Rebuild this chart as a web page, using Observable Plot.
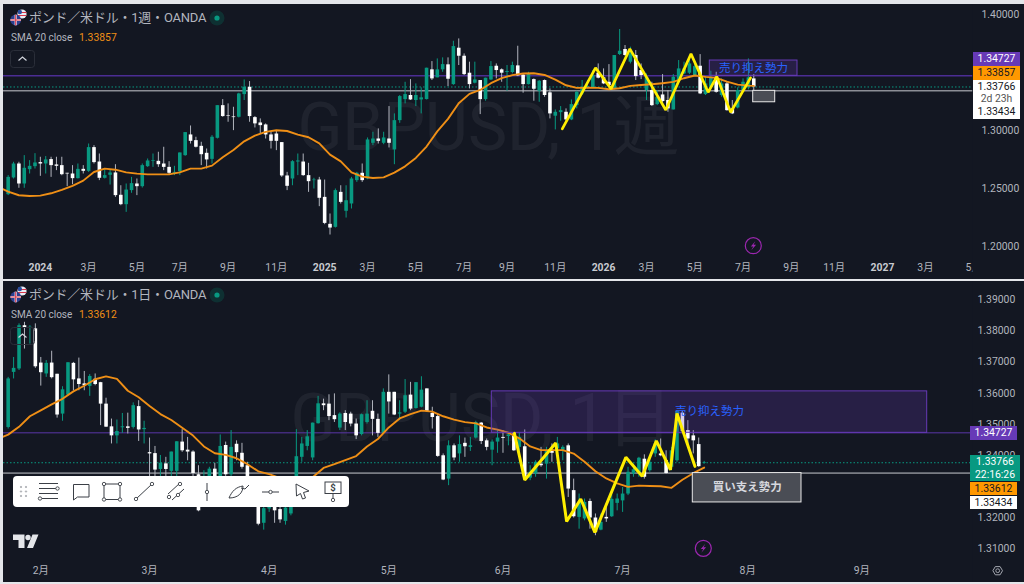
<!DOCTYPE html>
<html lang="ja"><head><meta charset="utf-8">
<script src="https://cdn.jsdelivr.net/npm/d3@7"></script>
<script src="https://cdn.jsdelivr.net/npm/@observablehq/plot@0.6"></script>
<style>
html,body{margin:0;padding:0;background:#e4e6ea;width:1024px;height:584px;overflow:hidden;font-family:Roboto,"Noto Sans CJK JP",sans-serif}
.p{position:absolute;background:#131722}
.p svg{display:block}
.t{position:absolute;white-space:nowrap;line-height:1}
.tag{position:absolute;text-align:center;font-size:10.4px;white-space:nowrap}
#ov{position:absolute;left:0;top:0;pointer-events:none}
</style></head><body>
<div class="p" id="wk" style="left:3px;top:4px;width:1021px;height:275px"></div>
<div class="p" id="dy" style="left:3px;top:281px;width:1021px;height:301px"></div>
<script>
// prices in units of 0.0001
const weekOpen=[12450,12594,12714,12542,12665,12691,12726,12714,12752,12706,12700,12634,12628,12588,12668,12651,12855,12731,12591,12617,12637,12445,12364,12485,12542,12519,12691,12737,12737,12714,12685,12634,12648,12786,12964,12915,12866,12806,12754,12935,13216,13130,13119,13116,13311,13374,13113,13067,13050,12964,12972,12898,12611,12585,12731,12731,12614,12571,12576,12427,12195,12169,12470,12307,12370,12571,12634,12585,12892,12929,12892,12929,12835,13087,13268,13303,13260,13265,13268,13524,13455,13524,13567,13397,13710,13641,13495,13409,13432,13268,13437,13555,13524,13501,13501,13558,13478,13397,13440,13340,13432,13326,13125,13156,13159,13093,13216,13317,13369,13369,13495,13455,13417,13360,13656,13699,13590,13647,13518,13346,13346,13225,13308,13260,13179,13432,13489,13495,13475,13555,13311,13374,13460,13303,13403,13188,13196,13346,13369,13446];
const weekHigh=[12614,12729,12729,12786,12743,12803,12772,12778,12772,12772,12772,12634,12700,12714,12700,12886,12872,12800,12665,12665,12708,12527,12542,12599,12585,12714,12757,12800,12815,12858,12734,12694,12809,12984,13041,12944,12901,12843,12958,13216,13268,13231,13202,13323,13437,13423,13122,13102,13059,12987,13001,12898,12642,12743,12800,12800,12720,12591,12599,12576,12284,12499,12527,12527,12599,12642,12714,12938,12987,13016,12987,13208,13145,13303,13417,13440,13403,13369,13538,13595,13618,13627,13627,13770,13790,13661,13590,13590,13432,13452,13595,13575,13532,13561,13590,13727,13483,13503,13446,13432,13437,13360,13179,13208,13188,13265,13340,13432,13432,13518,13575,13532,13569,13647,13871,13733,13719,13690,13575,13489,13417,13346,13483,13346,13483,13604,13590,13618,13575,13655,13466,13512,13503,13446,13417,13260,13369,13446,13618,13483];
const weekLow=[12442,12585,12505,12505,12628,12671,12608,12628,12599,12657,12613,12519,12536,12585,12628,12642,12714,12571,12585,12533,12427,12355,12298,12462,12442,12507,12685,12685,12685,12657,12620,12614,12614,12780,12886,12852,12700,12671,12714,12929,13116,13073,13001,13110,13260,13073,13024,12972,12929,12843,12829,12599,12485,12527,12614,12608,12470,12499,12347,12192,12103,12163,12370,12249,12327,12556,12556,12579,12872,12886,12880,12852,12708,13064,13231,13260,13208,13145,13265,13432,13455,13503,13380,13391,13561,13475,13360,13403,13139,13254,13432,13446,13417,13340,13489,13466,13323,13394,13254,13245,13288,13102,13007,13082,13082,13087,13188,13303,13360,13369,13446,13397,13380,13351,13647,13641,13575,13432,13440,13260,13208,13216,13208,13159,13179,13417,13483,13483,13466,13311,13303,13369,13323,13288,13168,13139,13188,13331,13351,13346];
const weekClose=[12599,12714,12542,12677,12694,12723,12714,12749,12700,12694,12622,12628,12588,12668,12651,12855,12726,12591,12614,12637,12442,12364,12490,12545,12519,12700,12740,12743,12708,12685,12634,12642,12809,12984,12909,12858,12794,12749,12944,13216,13122,13125,13113,13317,13374,13122,13059,13044,12964,12909,12909,12611,12522,12734,12740,12614,12562,12576,12419,12203,12163,12485,12384,12398,12585,12634,12571,12921,12929,12909,12938,12892,13087,13294,13311,13265,13303,13283,13538,13446,13524,13569,13443,13724,13641,13483,13397,13437,13268,13452,13552,13518,13495,13509,13561,13472,13397,13483,13357,13426,13303,13145,13159,13173,13093,13225,13331,13374,13380,13475,13452,13403,13389,13647,13684,13647,13661,13466,13475,13460,13216,13288,13251,13188,13460,13532,13532,13575,13552,13317,13403,13455,13331,13403,13173,13145,13346,13417,13455,13377];
const weekSmaBar=[0,1,3,5,7,9,11,13,15,17,19,21,23,25,27,29,31,33,35,37,39,41,43,45,47,49,51,53,55,57,59,61,63,65,67,69,71,73,75,77,79,81,83,85,87,89,91,93,95,97,99,101,103,105,107,109,111,113,115,117,119,121,123,125,127,129,131,133,135,137,139,140];
const weekSma=[12499,12476,12445,12439,12442,12462,12491,12525,12571,12645,12674,12665,12642,12631,12625,12625,12625,12642,12674,12674,12700,12772,12835,12909,12958,12990,13004,12998,12967,12944,12892,12795,12737,12642,12605,12594,12599,12640,12694,12766,12864,12995,13102,13236,13317,13351,13409,13452,13478,13492,13495,13480,13440,13391,13369,13371,13369,13357,13366,13386,13394,13400,13409,13420,13452,13475,13463,13455,13423,13397,13388,13386];
const weekZigBar=[104.3,110.5,113.4,116.9,123.6,128.3,131.5,133.1,135.7,139.4];
const weekZigPrice=[13016,13541,13360,13704,13179,13661,13331,13466,13159,13455];
const weekTickBars=[16,25,33,42,51,68,77,86,94,103,120,129,138,147,155,172,181];
const weekTickText=["3月","5月","7月","9月","11月","3月","5月","7月","9月","11月","3月","5月","7月","9月","11月","3月","5月"];
const weekYearBars=[7,60,112,164];
const weekYearText=["2024","2025","2026","2027"];
const weekPriceTicks=[1.40,1.30,1.25,1.20];

const dayOpen=[13490,13667,13678,13817,13810,13807,13697,13662,13697,13661,13533,13594,13696,13646,13630,13622,13645,13634,13565,13492,13463,13489,13492,13490,13557,13483,13409,13406,13355,13373,13349,13349,13443,13417,13411,13338,13276,13319,13356,13330,13432,13338,13436,13407,13367,13319,13233,13182,13228,13233,13226,13188,13212,13297,13394,13429,13392,13502,13566,13565,13528,13488,13535,13533,13501,13467,13506,13542,13516,13471,13603,13603,13533,13539,13594,13551,13555,13614,13535,13525,13399,13324,13431,13405,13439,13426,13456,13504,13447,13417,13443,13458,13461,13469,13426,13428,13327,13340,13372,13372,13417,13421,13417,13431,13287,13201,13196,13252,13199,13160,13201,13203,13246,13254,13276,13340,13343,13388,13351,13405,13405,13383,13362,13383,13536,13480,13463,13435,13375];
const dayHigh=[13651,13715,13823,13828,13817,13823,13715,13705,13735,13661,13621,13698,13699,13713,13670,13660,13662,13635,13584,13517,13514,13535,13536,13569,13576,13510,13456,13429,13400,13394,13411,13444,13483,13458,13415,13367,13351,13362,13375,13466,13443,13480,13447,13439,13378,13330,13276,13276,13287,13254,13233,13265,13330,13483,13458,13480,13504,13590,13581,13595,13598,13537,13544,13539,13517,13533,13576,13576,13533,13614,13659,13603,13576,13644,13635,13634,13653,13614,13555,13533,13405,13447,13437,13463,13456,13458,13510,13506,13453,13450,13480,13480,13474,13472,13474,13482,13367,13383,13426,13426,13437,13458,13431,13437,13324,13276,13260,13260,13212,13212,13244,13276,13276,13297,13362,13372,13394,13402,13399,13450,13453,13415,13426,13544,13542,13512,13480,13456,13381];
const dayLow=[13485,13646,13673,13742,13758,13680,13623,13651,13646,13520,13510,13592,13608,13608,13608,13590,13624,13496,13490,13437,13437,13471,13469,13485,13445,13437,13319,13319,13319,13330,13330,13330,13410,13383,13330,13219,13254,13297,13297,13319,13330,13330,13383,13356,13276,13244,13174,13160,13217,13182,13182,13176,13206,13292,13378,13415,13383,13501,13544,13512,13506,13480,13480,13492,13451,13463,13501,13463,13458,13469,13533,13528,13512,13535,13544,13549,13553,13539,13485,13394,13319,13303,13383,13378,13394,13413,13453,13435,13415,13367,13407,13407,13431,13413,13405,13319,13319,13330,13362,13324,13378,13415,13383,13265,13199,13163,13190,13163,13142,13158,13185,13201,13222,13217,13271,13330,13330,13324,13346,13394,13396,13340,13351,13378,13471,13426,13405,13362,13372];
const dayClose=[13646,13680,13817,13811,13812,13685,13666,13696,13650,13530,13611,13698,13643,13628,13624,13654,13628,13565,13491,13463,13477,13492,13487,13560,13482,13487,13405,13353,13375,13355,13411,13444,13415,13411,13342,13222,13330,13356,13319,13429,13338,13426,13409,13362,13319,13265,13179,13229,13265,13222,13193,13231,13319,13396,13437,13460,13504,13566,13560,13525,13515,13533,13506,13501,13463,13531,13533,13516,13471,13603,13572,13530,13537,13592,13549,13634,13610,13542,13522,13397,13321,13431,13392,13435,13428,13431,13506,13445,13426,13443,13456,13455,13466,13415,13458,13330,13346,13378,13367,13415,13407,13437,13426,13292,13203,13249,13249,13199,13153,13185,13196,13259,13260,13276,13346,13354,13391,13330,13378,13437,13399,13342,13415,13542,13477,13453,13447,13364,13377];
const daySmaBar=[0,1,3,5,7,9,11,13,15,17,19,21,23,25,27,29,31,33,35,37,39,41,43,45,47,49,51,53,55,57,59,61,63,65,67,69,71,73,75,77,79,81,83,85,87,89,91,93,95,97,99,101,103,105,107,109,111,113,115,117,119,121,123,125,127,129];
const daySma=[13460,13467,13492,13526,13545,13564,13582,13606,13624,13645,13654,13646,13608,13587,13559,13533,13514,13489,13464,13429,13407,13402,13391,13372,13349,13340,13327,13313,13308,13330,13360,13372,13385,13398,13429,13453,13490,13519,13533,13544,13541,13526,13515,13507,13503,13490,13483,13473,13455,13429,13417,13417,13417,13406,13380,13349,13326,13310,13299,13303,13302,13301,13296,13322,13343,13361];
const dayZigBar=[94.1,96,101.7,103.7,106.3,108.9,114.6,117.6,120.2,122.8,124,127.3];
const dayZigPrice=[13471,13321,13440,13188,13260,13153,13394,13333,13447,13354,13535,13365];
const dayTickBars=[7,27,49,71,92,114,137,158];
const dayTickText=["2月","3月","4月","5月","6月","7月","8月","9月"];
const dayPriceTicks=[1.39,1.38,1.37,1.36,1.35,1.34,1.32,1.31];

const resistance=1.34727, support=1.33434, last=1.33766;
const GREEN="#089981",GREY="#b2b5be",PURPLE="#673ab7",ORANGE="#ef8f16",AXIS="#b2b5be",BLUE="#2962ff",FONT='Roboto,"Noto Sans CJK JP",sans-serif';

function panel(host,c){
  const W=1021,H=c.height;
  const i=px=>1+(px-c.x0)/c.step;          // page x -> bar number
  const bars=c.open.map((o,k)=>({bar:k+1,o:o/1e4,h:c.high[k]/1e4,l:c.low[k]/1e4,c:c.close[k]/1e4}));
  const up=bars.filter(d=>d.c>=d.o),down=bars.filter(d=>d.c<d.o);
  const sma=c.smaBar.map((b,k)=>({b,v:c.sma[k]/1e4}));
  const zig=c.zigBar.map((b,k)=>({b,v:c.zigPrice[k]/1e4}));
  const right=i(972.5);
  const plot=Plot.plot({
    width:W,height:H,margin:0,marginRight:c.mr,marginBottom:c.mb,
    style:{background:"#131722",fontFamily:FONT,fontSize:"10.4px",color:AXIS},
    x:{type:"linear",domain:[1,c.open.length],range:[c.x0-3,c.x0-3+(c.open.length-1)*c.step]},
    y:{type:"linear",domain:c.yd,range:c.yr},
    marks:[
      Plot.text([c.wm],{x:i(c.wmX),y:c.wmY,text:d=>d,fontSize:c.wmSize,fill:"#fff",fillOpacity:.055,textAnchor:"middle",fontFamily:FONT}),
      Plot.ruleY([resistance],{x1:i(3),x2:right,stroke:c.rc,strokeWidth:c.rw}),
      Plot.ruleY([last],{x1:i(3),x2:right,stroke:GREEN,strokeDasharray:"1.5 2",strokeWidth:1}),
      Plot.ruleY([support],{x1:i(3),x2:right,stroke:"#c8cad0",strokeWidth:1}),
      Plot.ruleX(up,{x:"bar",y1:"l",y2:"h",stroke:GREEN,strokeWidth:1}),
      Plot.ruleX(down,{x:"bar",y1:"l",y2:"h",stroke:GREY,strokeWidth:1}),
      Plot.ruleX(up,{x:"bar",y1:"o",y2:"c",stroke:GREEN,strokeWidth:3.6}),
      Plot.ruleX(down,{x:"bar",y1:"o",y2:"c",stroke:"#fff",strokeWidth:3.6}),
      Plot.line(sma,{x:"b",y:"v",stroke:ORANGE,strokeWidth:1.9,curve:"linear"}),
      Plot.rect([c.zone],{x1:d=>i(d.x1),x2:d=>i(d.x2),y1:d=>d.y1,y2:d=>d.y2,fill:PURPLE,fillOpacity:.24,stroke:PURPLE,strokeWidth:1}),
      Plot.text([c.zone],{x:d=>i(d.tx),y:d=>d.ty,text:d=>d.label,fill:BLUE,fontSize:11.5,fontFamily:FONT}),
      Plot.rect([c.box],{x1:d=>i(d.x1),x2:d=>i(d.x2),y1:d=>d.y1,y2:d=>d.y2,fill:"#4a4d55",stroke:"#e8e8e8",strokeWidth:1}),
      Plot.text(c.box.label?[c.box]:[],{x:d=>i((d.x1+d.x2)/2),y:d=>(d.y1+d.y2)/2,text:d=>d.label,fill:"#d6d8de",fontSize:11.5,fontWeight:"bold",fontFamily:FONT}),
      Plot.line(zig,{x:"b",y:"v",stroke:"#ffee00",strokeWidth:c.zw,strokeLinejoin:"miter"}),
      Plot.axisX({ticks:c.tickBars,tickFormat:d=>c.tickText[c.tickBars.indexOf(d)],tickSize:0,tickPadding:c.tp,label:null,fill:AXIS}),
      Plot.axisX({ticks:c.yearBars,tickFormat:d=>c.yearText[c.yearBars.indexOf(d)],tickSize:0,tickPadding:c.tp,label:null,fill:"#c8cad0",fontWeight:"bold"}),
      Plot.rect([0],{x1:right,x2:i(1024),y1:c.yd[0]+1,y2:c.yd[1]-1,fill:"#131722"}),
      Plot.axisY({anchor:"right",ticks:c.priceTicks,tickFormat:d3.format(".5f"),tickSize:0,tickPadding:0,label:null,fill:AXIS}),
    ]
  });
  host.appendChild(plot);
}
panel(document.getElementById("wk"),{
  height:275,x0:7.67,step:5.364,mr:43,mb:20,tp:4,rw:1.5,rc:"#4b2d93",zw:2.7,
  yd:[1.40,1.20],yr:[10,242.5],
  open:weekOpen,high:weekHigh,low:weekLow,close:weekClose,
  smaBar:weekSmaBar,sma:weekSma,zigBar:weekZigBar,zigPrice:weekZigPrice,
  tickBars:weekTickBars,tickText:weekTickText,yearBars:weekYearBars,yearText:weekYearText,priceTicks:weekPriceTicks,
  wm:"GBPUSD, 1週",wmX:488,wmY:1.302,wmSize:66,
  zone:{x1:709.3,x2:797,y1:resistance,y2:1.3604,tx:753,ty:1.3540,label:"売り抑え勢力"},
  box:{x1:752.7,x2:774.7,y1:support,y2:1.3245,label:""}
});
panel(document.getElementById("dy"),{
  height:301,x0:7.67,step:5.4375,mr:47,mb:20,tp:4,rw:1,rc:"#5a36a8",zw:3,
  yd:[1.39,1.31],yr:[18.4,267.3],
  open:dayOpen,high:dayHigh,low:dayLow,close:dayClose,
  smaBar:daySmaBar,sma:daySma,zigBar:dayZigBar,zigPrice:dayZigPrice,
  tickBars:dayTickBars,tickText:dayTickText,yearBars:[],yearText:[],priceTicks:dayPriceTicks,
  wm:"GBPUSD, 1日",wmX:481,wmY:1.3515,wmSize:66,
  zone:{x1:491.3,x2:926.7,y1:resistance,y2:1.3606,tx:709,ty:1.3541,label:"売り抑え勢力"},
  box:{x1:692.3,x2:801,y1:support,y2:1.3249,label:"買い支え勢力"}
});

// chrome: legends, tags, toolbar
function txt(x,y,s,color,size,extra){const e=document.createElement("div");e.className="t";e.textContent=s;
  e.style.cssText=`left:${x}px;top:${y}px;color:${color};font-size:${size}px;${extra||""}`;document.body.appendChild(e);}
function tag(x,y,w,h,bg,fg,s,extra){const e=document.createElement("div");e.className="tag";e.innerHTML=s;
  e.style.cssText=`left:${x}px;top:${y}px;width:${w}px;height:${h}px;line-height:${h}px;background:${bg};color:${fg};${extra||""}`;document.body.appendChild(e);}
txt(29,11,"ポンド／米ドル・1週・OANDA",GREY,13,"letter-spacing:-.22px");
txt(11,33,"SMA 20 close",GREY,10);
txt(79,33,"1.33857",ORANGE,10.4);
txt(29,288,"ポンド／米ドル・1日・OANDA",GREY,13,"letter-spacing:-.22px");
txt(11,310,"SMA 20 close",GREY,10);
txt(79,310,"1.33612",ORANGE,10.4);
// weekly tags
tag(973,52,47,14,PURPLE,"#fff","1.34727");
tag(973,66,47,14,"#ff9800","#131722","1.33857");
tag(973,80,47,39,"#fff","#131722","<div style='line-height:13px;color:#131722'>1.33766</div><div style='line-height:12px;color:#555'>2d 23h</div><div style='line-height:14px'>1.33434</div>");
// daily tags
tag(970,426,47,13.5,PURPLE,"#fff","1.34727");
tag(970,455,50,26,GREEN,"#fff","<div style='line-height:13px'>1.33766</div><div style='line-height:13px'>22:16:26</div>");
tag(970,481.5,47,13.5,"#ff9800","#131722","1.33612");
tag(970,495.5,47,13.5,"#fff","#131722","1.33434");
// toolbar
const bar=document.createElement("div");bar.style.cssText="position:absolute;left:13px;top:476px;width:336px;height:31px;background:#fff;border-radius:4px";document.body.appendChild(bar);
const NS="http://www.w3.org/2000/svg";
const ic="#3b3f46";
const node=(cx,cy)=>`<circle cx="${cx}" cy="${cy}" r="1.7" fill="#fff" stroke="${ic}" stroke-width=".9"/>`;
const flash=(x,y)=>`<circle cx="${x}" cy="${y}" r="8" fill="none" stroke="#9c27b0" stroke-width="1.2"/><path d="M${x+2} ${y-4.5}L${x-2.5} ${y+.8}H${x}L${x-2} ${y+4.5}L${x+2.8} ${y-1}H${x+.2}Z" fill="#9c27b0"/>`;
const head=(y)=>`<circle cx="22" cy="${y+14}" r="4.6" fill="#e9edf5"/><path d="M17.6 ${y+12.5}h8.8M18 ${y+15.5}h8.4" stroke="#d8354a" stroke-width="1.2"/><circle cx="19.8" cy="${y+12}" r="2.2" fill="#2a4fa0"/><circle cx="15.7" cy="${y+20}" r="5.4" fill="#2a3f8f"/><path d="M10.5 ${y+20}h10.4M15.7 ${y+14.8}v10.4" stroke="#e9edf5" stroke-width="2.2"/><path d="M10.5 ${y+20}h10.4M15.7 ${y+14.8}v10.4" stroke="#d8354a" stroke-width="1.1"/>
<circle cx="217" cy="${y+18}" r="7.5" fill="#0d3a38" opacity=".75"/><circle cx="217" cy="${y+18}" r="2.6" fill="#089981"/>`;
const svg=`<svg id="ov" xmlns="${NS}" width="1024" height="584" viewBox="0 0 1024 584" fill="none">
${head(0)}${head(277)}
<rect x="10.5" y="50.5" width="24" height="17" rx="3" stroke="#2a2e39"/><path d="M18.5 60.5l4-3.5 4 3.5" stroke="#d1d4dc" stroke-width="1.2"/>
<rect x="10.5" y="327.5" width="24" height="17" rx="3" stroke="#2a2e39"/><path d="M18.5 337.5l4-3.5 4 3.5" stroke="#d1d4dc" stroke-width="1.2"/>
${flash(753.3,245.7)}${flash(703.3,548.3)}
<g stroke="#8a8d93" stroke-width=".7"><circle cx="21" cy="487" r=".7"/><circle cx="26" cy="487" r=".7"/><circle cx="21" cy="491.5" r=".7"/><circle cx="26" cy="491.5" r=".7"/><circle cx="21" cy="496" r=".7"/><circle cx="26" cy="496" r=".7"/></g>
<g stroke="${ic}" stroke-width="1">
<path d="M39 483.5H58M39 488.5H56M39 493.5H58M42 498.5H58"/>${node(57.5,488.5)}${node(40,498.5)}
<path d="M73.5 484.5H89V497H77.5L73.5 500Z"/>
<rect x="104" y="484" width="16" height="15.5"/>${node(104,484)}${node(120,484)}${node(104,499.5)}${node(120,499.5)}
<path d="M136 499L152 484"/>${node(136,499)}${node(152,484)}
<path d="M168 494L180 483M172 500L184 489"/>${node(169,497)}${node(180,484)}${node(178,495)}
<path d="M207 483V501"/>${node(207,492)}
<path d="M229 498C232 491 236 487 243 486C243 493 238 498 229 498ZM241 488l4 1 4-4"/>
<path d="M262 492H279"/>${node(270.5,492)}
<path d="M296 484L309 491L303.5 492.5L305.5 498L302.5 499L300.5 493.5L296.5 496Z"/>
<rect x="325" y="482" width="16" height="11.5"/><path d="M333 493.5V499"/>${node(333,500)}
</g>
<text x="333" y="491" text-anchor="middle" font-size="9.5" font-weight="700" fill="${ic}" font-family="Roboto">$</text>
<path d="M13 534.5h11.5v13.5h-6v-8h-5.5zM27 548l5.5-13.5h6L33 548z" fill="#e4e6ea"/><circle cx="28" cy="537.5" r="2.7" fill="#e4e6ea"/>
<polygon points="1002.5,570.7 1000.1,574.8 995.3,574.8 992.9,570.7 995.3,566.6 1000.1,566.6" stroke="#a3a6af" stroke-width="1"/><circle cx="997.7" cy="570.7" r="1.9" stroke="#a3a6af" stroke-width="1"/>
</svg>`;
document.body.insertAdjacentHTML("beforeend",svg);
</script>
</body></html>
